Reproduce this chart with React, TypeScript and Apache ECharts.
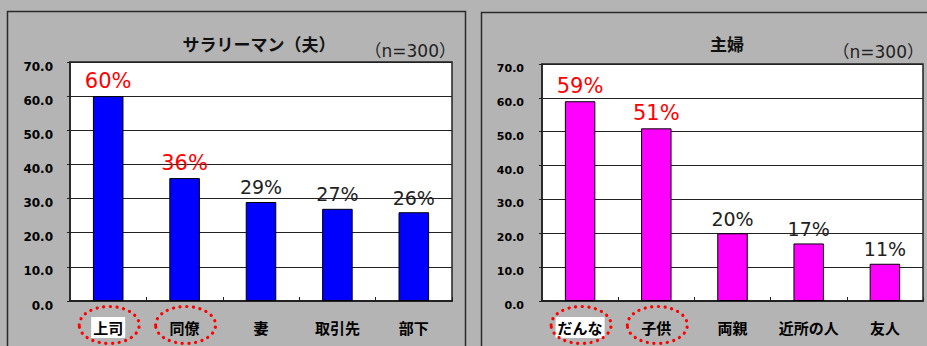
import React, { useEffect, useRef } from "react";
import * as echarts from "echarts";

const leftTitle = "サラリーマン（夫）";
const rightTitle = "主婦";
const sampleNote = "（n=300）";
const leftCategories = ["上司", "同僚", "妻", "取引先", "部下"];
const leftValues = [60, 36, 29, 27, 26];
const rightCategories = ["だんな", "子供", "両親", "近所の人", "友人"];
const rightValues = [59, 51, 20, 17, 11];
const highlighted = [0, 1];
const yTicks = [0, 10, 20, 30, 40, 50, 60, 70];

export default function App() {
  const ref = useRef<HTMLDivElement>(null);
  useEffect(() => {
    document.body.style.margin = "0";
    const chart = echarts.init(ref.current!, null, { renderer: "svg" });
    const cjk = "'Noto Sans CJK JP', sans-serif";
    const dv = "'DejaVu Sans', 'Noto Sans CJK JP', sans-serif";

    const mkData = (vals: number[], color: string) =>
      vals.map((v, i) => {
        const hl = highlighted.includes(i);
        return {
          value: v,
          itemStyle: { color, borderColor: "#000", borderWidth: 1 },
          label: { color: hl ? "#ff0000" : "#222", fontSize: hl ? 21 : 19 },
        };
      });

    const xAxis = (idx: number, cats: string[]) => ({
      type: "category",
      gridIndex: idx,
      data: cats,
      axisLine: { lineStyle: { color: "#222", width: 2 } },
      axisTick: { show: true, inside: true, length: 4, alignWithLabel: false, lineStyle: { color: "#222" } },
      axisLabel: {
        interval: 0,
        margin: 16,
        formatter: (v: string, i: number) => (i === 0 ? `{hl|${v}}` : `{n|${v}}`),
        rich: {
          hl: { backgroundColor: "#fff", padding: [3, 2, 3, 2], fontSize: 15, fontWeight: "bold", fontFamily: cjk, color: "#000" },
          n: { padding: [3, 2, 3, 2], fontSize: 15, fontWeight: "bold", fontFamily: cjk, color: "#000" },
        },
      },
    });

    const yAxis = (idx: number, margin: number, fs: number) => ({
      type: "value",
      gridIndex: idx,
      min: yTicks[0],
      max: yTicks[yTicks.length - 1],
      interval: 10,
      axisLine: { show: true, lineStyle: { color: "#222", width: 1.5 } },
      axisTick: { show: true, length: 3, lineStyle: { color: "#222" } },
      splitLine: { lineStyle: { color: "#222", width: 1 } },
      axisLabel: {
        margin,
        fontSize: fs,
        fontWeight: "bold",
        fontFamily: "'DejaVu Sans', sans-serif",
        color: "#000",
        verticalAlign: "top",
        lineHeight: 9,
        formatter: (v: number) => v.toFixed(1),
      },
    });

    const barSeries = (idx: number, vals: number[], color: string) => ({
      type: "bar",
      xAxisIndex: idx,
      yAxisIndex: idx,
      barWidth: "40%",
      data: mkData(vals, color),
      label: {
        show: true,
        position: "top",
        distance: 5,
        fontFamily: dv,
        formatter: (p: any) => `${p.value}%`,
      },
    });

    const gridBase = {
      show: true,
      backgroundColor: "#fff",
      borderColor: "#222",
      borderWidth: 1.5,
    };

    chart.setOption({
      animation: false,
      backgroundColor: "#b4b4b4",
      grid: [
        { ...gridBase, left: 70, top: 62, width: 382, height: 239 },
        { ...gridBase, left: 542, top: 64, width: 381, height: 237 },
      ],
      xAxis: [xAxis(0, leftCategories), xAxis(1, rightCategories)],
      yAxis: [yAxis(0, 17, 12), yAxis(1, 18, 11)],
      series: [barSeries(0, leftValues, "#0000ff"), barSeries(1, rightValues, "#ff00ff")],
    });

    const noteFont = "17px 'DejaVu Sans', 'Noto Sans CJK JP', sans-serif";
    const graphics: any[] = [
      { type: "rect", shape: { x: 7.5, y: 11.5, width: 458, height: 345 }, style: { fill: "none", stroke: "#2a2a2a", lineWidth: 1.5 }, z: 0 },
      { type: "rect", shape: { x: 481.5, y: 12.5, width: 452, height: 345 }, style: { fill: "none", stroke: "#2a2a2a", lineWidth: 1.5 }, z: 0 },
      { type: "text", x: 259, y: 43, style: { text: leftTitle, font: `bold 17px ${cjk}`, fill: "#111", align: "center", verticalAlign: "middle" } },
      { type: "text", x: 456, y: 51, style: { text: sampleNote, font: noteFont, fill: "#222", align: "right", verticalAlign: "middle" } },
      { type: "text", x: 727, y: 43, style: { text: rightTitle, font: `bold 17px ${cjk}`, fill: "#111", align: "center", verticalAlign: "middle" } },
      { type: "text", x: 924, y: 52, style: { text: sampleNote, font: noteFont, fill: "#222", align: "right", verticalAlign: "middle" } },
    ];
    const addEllipses = (idx: number, cats: string[]) => {
      highlighted.forEach((i) => {
        const p = chart.convertToPixel({ gridIndex: idx } as any, [cats[i], 0]) as number[];
        graphics.push({
          type: "ellipse",
          shape: { cx: p[0] + 1, cy: p[1] + 24, rx: 30, ry: 18.5 },
          style: { fill: "none", stroke: "#ff0000", lineWidth: 3.2, lineDash: [0.1, 6.5], lineCap: "round" },
          z: 10,
        });
      });
    };
    addEllipses(0, leftCategories);
    addEllipses(1, rightCategories);
    chart.setOption({ graphic: graphics } as any);

    return () => chart.dispose();
  }, []);
  return <div ref={ref} style={{ width: 927, height: 346 }} />;
}
